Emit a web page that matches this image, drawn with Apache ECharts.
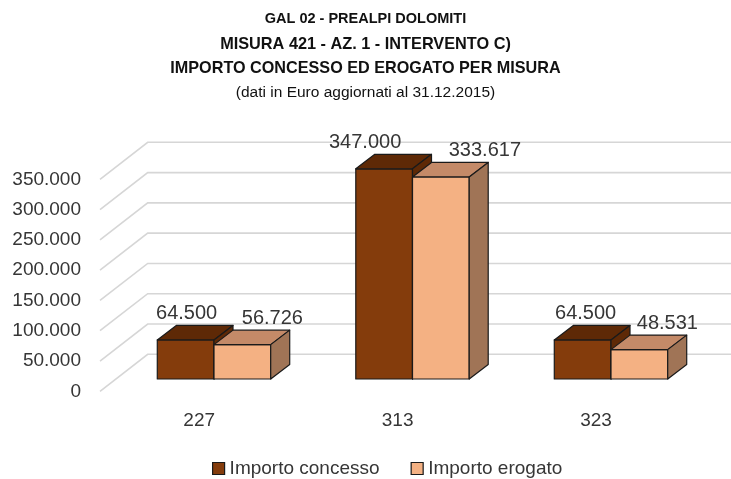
<!DOCTYPE html>
<html>
<head>
<meta charset="utf-8">
<script src="https://cdn.jsdelivr.net/npm/echarts@6/dist/echarts.min.js"></script>
<style>html,body{margin:0;padding:0;background:#fff;}#c{width:731px;height:479px;}</style>
</head>
<body>
<div id="c"></div>
<script>
var categories = ['227', '313', '323'];
var concesso = [64500, 347000, 64500];
var erogato = [56726, 333617, 48531];
var yTicks = [0, 50000, 100000, 150000, 200000, 250000, 300000, 350000];
var seriesNames = ['Importo concesso', 'Importo erogato'];

var FONT = '"Liberation Sans", Arial, sans-serif';
var DX = 19, DY = -14.5;            // bar depth
var WALL_DX = 47.7, WALL_DY = -37;  // front plane -> back wall
var labelShift = [[1, -19, 3], [30, 44, 28]];
var faceColors = [
  {front: '#843C0C', top: '#5E2906', side: '#5E2906'},
  {front: '#F4B183', top: '#C48A68', side: '#A07456'}
];

function fmt(v) {
  return String(Math.round(v)).replace(/\B(?=(\d{3})+(?!\d))/g, '.');
}

function barRender(si) {
  return function (params, api) {
    var idx = api.value(0), val = api.value(1);
    var top = api.coord([idx, val]);
    var base = api.coord([idx, 0]);
    var bw = api.size([1, 0])[0] * 0.2857;
    var x0 = si === 0 ? top[0] - bw : top[0];
    var yT = top[1], y0 = base[1];
    var c = faceColors[si];
    var st = {stroke: '#1a1a1a', lineWidth: 1.2, lineJoin: 'round'};
    return {
      type: 'group',
      children: [
        {type: 'rect', shape: {x: x0, y: yT, width: bw, height: y0 - yT},
         style: Object.assign({fill: c.front}, st)},
        {type: 'polygon', shape: {points: [[x0, yT], [x0 + bw, yT], [x0 + bw + DX, yT + DY], [x0 + DX, yT + DY]]},
         style: Object.assign({fill: c.top}, st)},
        {type: 'polygon', shape: {points: [[x0 + bw, yT], [x0 + bw + DX, yT + DY], [x0 + bw + DX, y0 + DY], [x0 + bw, y0]]},
         style: Object.assign({fill: c.side}, st)},
        {type: 'text', style: {
          text: fmt(val), x: x0 + bw / 2 + labelShift[si][idx], y: yT - 26,
          align: 'center', verticalAlign: 'middle',
          font: '20px ' + FONT, fill: '#363636'}}
      ]
    };
  };
}

function wallRender(params, api) {
  var v = api.value(1);
  var cs = params.coordSys;
  var y = api.coord([0, v])[1];
  return {
    type: 'polyline',
    shape: {points: [[cs.x, y], [cs.x + WALL_DX, y + WALL_DY], [731, y + WALL_DY]]},
    style: {stroke: '#D6D6D6', lineWidth: 1.6, fill: null}
  };
}

var chart = echarts.init(document.getElementById('c'), null, {renderer: 'canvas'});
chart.setOption({
  animation: false,
  backgroundColor: '#ffffff',
  title: [
    {text: 'GAL 02 - PREALPI DOLOMITI', left: 'center', top: 11.8, padding: 0,
     textStyle: {fontFamily: FONT, fontSize: 14.5, fontWeight: 'bold', color: '#111'}},
    {text: 'MISURA 421 - AZ. 1 - INTERVENTO C)', left: 'center', top: 36.4, padding: 0,
     textStyle: {fontFamily: FONT, fontSize: 16.3, fontWeight: 'bold', color: '#111'}},
    {text: 'IMPORTO CONCESSO ED EROGATO PER MISURA', left: 'center', top: 60.4, padding: 0,
     textStyle: {fontFamily: FONT, fontSize: 16.2, fontWeight: 'bold', color: '#111'}},
    {text: '(dati in Euro aggiornati al 31.12.2015)', left: 'center', top: 85, padding: 0,
     textStyle: {fontFamily: FONT, fontSize: 15.5, fontWeight: 'normal', color: '#111'}}
  ],
  legend: {
    data: seriesNames, left: 207, top: 454, itemWidth: 12, itemHeight: 12, itemGap: 31,
    icon: 'rect',
    itemStyle: {borderColor: '#1a1a1a', borderWidth: 1.2},
    textStyle: {fontFamily: FONT, fontSize: 19, color: '#363636'}
  },
  grid: [
    {left: 114.75, right: 20.75, top: 167, bottom: 100},
    {left: 100, right: 35.75, top: 179.3, bottom: 87.7}
  ],
  xAxis: [
    {type: 'category', data: categories, gridIndex: 0, show: false},
    {type: 'category', data: categories, gridIndex: 1,
     axisLine: {show: false}, axisTick: {show: false}, splitLine: {show: false},
     axisLabel: {margin: 19.5, fontFamily: FONT, fontSize: 19, color: '#363636'}}
  ],
  yAxis: [
    {type: 'value', gridIndex: 0, min: 0, max: 350000, interval: 50000, show: false},
    {type: 'value', gridIndex: 1, min: 0, max: 350000, interval: 50000,
     axisLine: {show: false}, axisTick: {show: false}, splitLine: {show: false},
     axisLabel: {margin: 19, fontFamily: FONT, fontSize: 19, color: '#363636',
                 padding: [5, 0, 0, 0],
                 formatter: function (v) { return fmt(v); }}}
  ],
  series: [
    {type: 'custom', name: 'walls', xAxisIndex: 1, yAxisIndex: 1, z: 1, silent: true,
     renderItem: wallRender, data: yTicks.map(function (t) { return [0, t]; })},
    {type: 'custom', name: seriesNames[0], xAxisIndex: 0, yAxisIndex: 0, z: 2,
     itemStyle: {color: faceColors[0].front},
     renderItem: barRender(0), encode: {x: 0, y: 1},
     data: categories.map(function (c, i) { return [i, concesso[i]]; })},
    {type: 'custom', name: seriesNames[1], xAxisIndex: 0, yAxisIndex: 0, z: 3,
     itemStyle: {color: faceColors[1].front},
     renderItem: barRender(1), encode: {x: 0, y: 1},
     data: categories.map(function (c, i) { return [i, erogato[i]]; })}
  ]
});
</script>
</body>
</html>
